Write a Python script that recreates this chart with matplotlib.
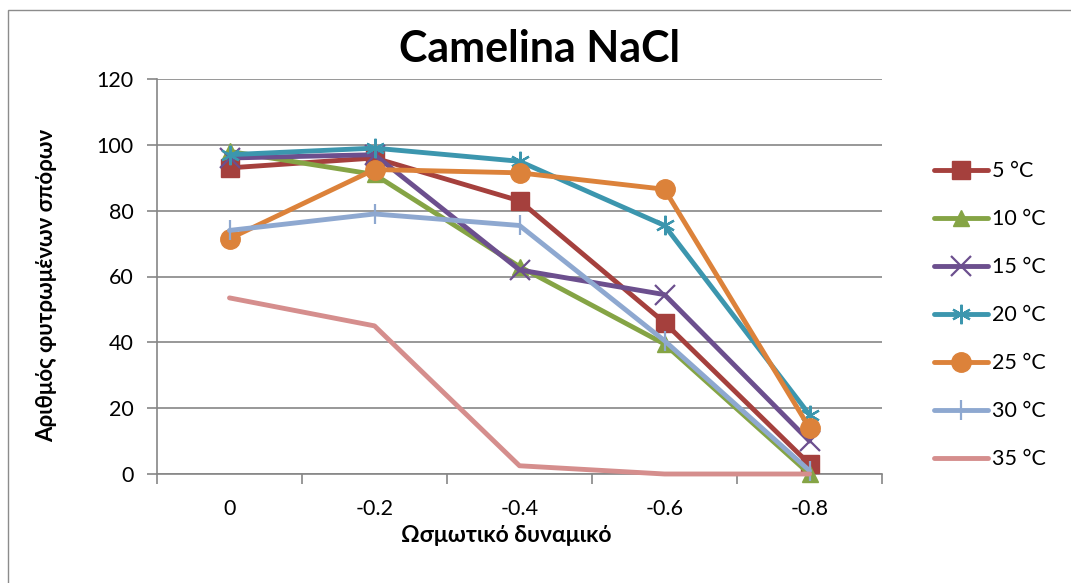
import matplotlib
matplotlib.use("Agg")
import matplotlib.pyplot as plt
from matplotlib.patches import Rectangle

categories = ["0", "-0.2", "-0.4", "-0.6", "-0.8"]
series_names = ["5 °C", "10 °C", "15 °C", "20 °C", "25 °C", "30 °C", "35 °C"]
t5 = [93, 96, 83, 46, 3]
t10 = [98, 91, 63, 39.5, 0]
t15 = [96, 97, 62, 54.5, 10]
t20 = [97, 99, 95, 75.5, 18]
t25 = [71.5, 92.5, 91.5, 86.5, 14]
t30 = [74, 79, 75.5, 40.5, 1]
t35 = [53.5, 45, 2.5, 0, 0]
series_values = [t5, t10, t15, t20, t25, t30, t35]
y_ticks = [0, 20, 40, 60, 80, 100, 120]

colors = ["#A5403D", "#85A445", "#6C4F8E", "#3C96AE", "#DC823A", "#8EA8D0", "#D58E8D"]
markers = ["s", "^", "x", (6, 2, 0), "o", "|", None]
msizes = [13, 12, 14, 14, 14, 14, 0]

plt.rcParams['font.family'] = ['Lato', 'DejaVu Sans']

fig = plt.figure(figsize=(10.71, 5.83), dpi=100)
fig.patches.append(Rectangle((8/1071, -0.05), 1.05, 1-10/583+0.05, transform=fig.transFigure,
                             fill=False, edgecolor="#8c8c8c", linewidth=1.0))
ax = fig.add_axes([157/1071, 1-474/583, (882-157)/1071, (474-79)/583])

x = list(range(len(categories)))
for name, vals, c, m, ms in zip(series_names, series_values, colors, markers, msizes):
    ax.plot(x, vals, color=c, linewidth=3.5, marker=m, markersize=ms,
            markeredgewidth=1.6 if m in ("x", "|") or isinstance(m, tuple) else 1,
            markeredgecolor=c, markerfacecolor=c, label=name, solid_capstyle="round",
            solid_joinstyle="round", clip_on=False, zorder=3)

ax.set_xlim(-0.5, 4.5)
ax.set_ylim(0, 120)
ax.set_yticks(y_ticks)
ax.set_xticks(x)
ax.set_xticklabels(categories)
ax.set_xticks([i - 0.5 for i in range(len(categories) + 1)], minor=True)
ax.tick_params(axis="x", which="major", length=0, pad=18, labelsize=15.5)
ax.tick_params(axis="x", which="minor", length=7, color="#868686", width=1.2)
ax.tick_params(axis="y", length=7, color="#868686", width=1.2, labelsize=15.5, pad=10)
ax.grid(axis="y", color="#868686", linewidth=1.2)
ax.set_axisbelow(True)
for s in ["top", "right"]:
    ax.spines[s].set_visible(False)
for s in ["left", "bottom"]:
    ax.spines[s].set_color("#868686")
    ax.spines[s].set_linewidth(1.2)

ax.set_title("Camelina NaCl", fontsize=31, fontweight="bold", pad=12, x=(540-157)/725)
ax.set_xlabel("Ωσμωτικό δυναμικό", fontsize=16.5, fontweight="bold")
ax.xaxis.set_label_coords((506-157)/725, -(535-474)/395, transform=ax.transAxes)
ax.xaxis.label.set_va("center")
ax.set_ylabel("Αριθμός φυτρωμένων σπόρων", fontsize=16, fontweight="bold")
ax.yaxis.set_label_coords(-(157-47)/725, (474-285)/395, transform=ax.transAxes)
ax.yaxis.label.set_va("center")

leg = ax.legend(loc="upper left", bbox_to_anchor=(915/1071, 1-142/583), bbox_transform=fig.transFigure,
                frameon=False, fontsize=15.5, handlelength=2.5, labelspacing=1.3, handletextpad=0.2)

fig.savefig("out.png", dpi=100)
